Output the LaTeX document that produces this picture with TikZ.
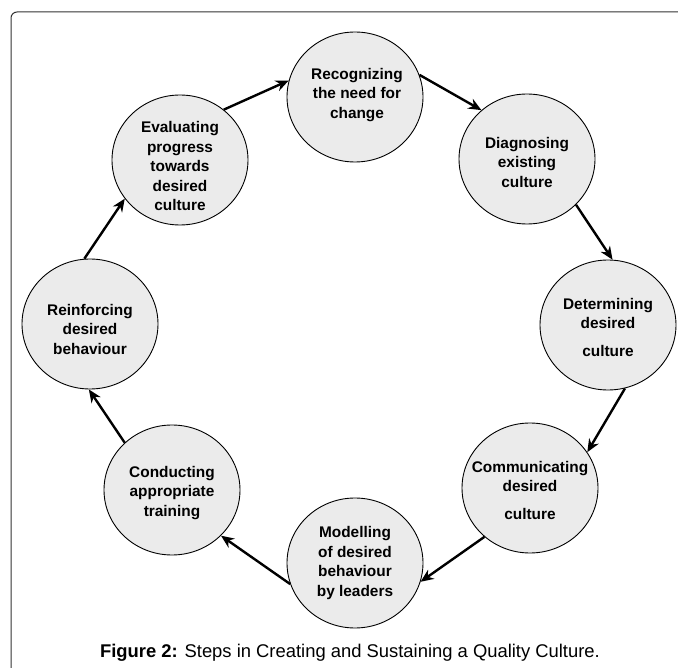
\documentclass[tikz,border=0pt]{standalone}
\usepackage{fontspec}
\setmainfont{Liberation Sans}
\usetikzlibrary{shapes.geometric,arrows.meta}
\definecolor{stepfill}{HTML}{EBEBEB}
\definecolor{framegray}{HTML}{333333}
\tikzset{
  stepell/.style={ellipse,draw=black,line width=0.9pt,fill=stepfill,minimum width=136pt,minimum height=130pt,inner sep=0pt},
  steptext/.style={align=center,font=\bfseries\fontsize{15.4}{19.5}\selectfont,inner sep=0pt},
  flow/.style={line width=2.4pt,-{Stealth[length=13pt,width=11pt]}},
}
\begin{document}
\begin{tikzpicture}[x=1pt,y=-1pt]
\useasboundingbox (0,0) rectangle (678,668);
\coordinate (fb) at (11,668);
\coordinate (fc) at (11,12);
\coordinate (fr) at (678,12);
\draw[framegray,line width=1pt,rounded corners=6pt] (fb) -- (fc) -- (fr);

\node[stepell] (c1) at (355,97) {};
\node[stepell] (c2) at (527,159) {};
\node[stepell] (c3) at (608,325) {};
\node[stepell] (c4) at (530,488) {};
\node[stepell] (c5) at (355,563) {};
\node[stepell] (c6) at (172,490) {};
\node[stepell] (c7) at (90,324) {};
\node[stepell] (c8) at (180,160) {};

\node[steptext] (t1) at (357,95) {Recognizing\\the need for\\change};
\node[steptext] (t2) at (527,162) {Diagnosing\\existing\\culture};
\node[steptext] (t3) at (608,327) {Determining\\desired\\[8pt]culture};
\node[steptext] (t4) at (530,490) {Communicating\\desired\\[8pt]culture};
\node[steptext] (t5) at (355,563) {Modelling\\of desired\\behaviour\\by leaders};
\node[steptext] (t6) at (172,493) {Conducting\\appropriate\\training};
\node[steptext] (t7) at (90,329) {Reinforcing\\desired\\behaviour};
\node[steptext] (t8) at (180,166) {Evaluating\\progress\\towards\\desired\\culture};

\draw[flow] (c8.49) -- (c1.166);
\draw[flow] (c1.19) -- (c2.133);
\draw[flow] (c2.-43) -- (c3.86);
\draw[flow] (c3.-75) -- (c4.32);
\draw[flow] (c4.227) -- (c5.-16);
\draw[flow] (c5.198) -- (c6.-43);
\draw[flow] (c6.135) -- (c7.-91);
\draw[flow] (c7.95) -- (c8.215);

\node[font=\fontsize{18.4}{22}\selectfont,inner sep=0pt] (cap) at (350,653) {\textbf{Figure 2:} Steps in Creating and Sustaining a Quality Culture.};
\end{tikzpicture}
\end{document}
